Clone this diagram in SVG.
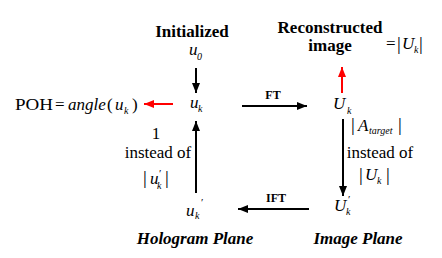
<svg xmlns="http://www.w3.org/2000/svg" width="442" height="258" viewBox="0 0 442 258">
<defs>
<style>
text{font-family:"Liberation Serif","Times New Roman",serif;fill:#000;}
.t{font-size:17px;}
.b{font-size:17px;font-weight:bold;}
.bi{font-size:17px;font-weight:bold;font-style:italic;}
.m{font-size:17px;font-style:italic;}
.s{font-size:10px;font-style:italic;}
.p{font-size:11px;}
.lb{font-size:12px;font-weight:bold;}
.bar{font-size:19px;}
.k{stroke:#000;stroke-width:2;fill:none;}
.r{stroke:#f00;stroke-width:2;fill:none;}
</style>
<marker id="ak" markerUnits="userSpaceOnUse" markerWidth="10" markerHeight="8" refX="10" refY="4" orient="auto"><path d="M0,0 L10,4 L0,8 z" fill="#000"/></marker>
<marker id="ar" markerUnits="userSpaceOnUse" markerWidth="10" markerHeight="8" refX="10" refY="4" orient="auto"><path d="M0,0 L10,4 L0,8 z" fill="#f00"/></marker>
</defs>
<rect width="442" height="258" fill="#fff"/>
<g id="connectors">
<line class="k" x1="196" y1="68" x2="196" y2="93" marker-end="url(#ak)"/>
<line class="r" x1="173" y1="104" x2="144" y2="104" marker-end="url(#ar)"/>
<line class="k" x1="242" y1="106" x2="307" y2="106" marker-end="url(#ak)"/>
<line class="r" x1="342" y1="93" x2="342" y2="67" marker-end="url(#ar)"/>
<line class="k" x1="343" y1="119" x2="343" y2="196" marker-end="url(#ak)"/>
<line class="k" x1="309" y1="209" x2="238" y2="209" marker-end="url(#ak)"/>
<line class="k" x1="196" y1="193" x2="196" y2="121" marker-end="url(#ak)"/>
<text class="lb" x="273" y="99" text-anchor="middle">FT</text>
<text class="lb" x="276" y="202" text-anchor="middle">IFT</text>
<text class="t" x="156" y="139" text-anchor="middle">1</text>
<text class="t" x="158" y="158" text-anchor="middle">instead of</text>
<g fill="#333">
<text class="bar" x="143" y="184">|</text>
<text class="m" x="150" y="184">u</text>
<text class="p" x="159" y="177">′</text>
<text class="s" x="157" y="189">k</text>
<text class="bar" x="165" y="184">|</text>
</g>
<text class="bar" x="351" y="131">|</text>
<text class="m" x="358" y="131">A</text>
<text class="s" x="369" y="134">target</text>
<text class="bar" x="398" y="131">|</text>
<text class="t" x="380" y="158" text-anchor="middle">instead of</text>
<text class="bar" x="359" y="181">|</text>
<text class="m" x="365" y="180">U</text>
<text class="s" x="377" y="184">k</text>
<text class="bar" x="386" y="181">|</text>
</g>
<g id="node-init">
<text class="b" x="192" y="37" text-anchor="middle">Initialized</text>
<text class="m" x="189" y="55">u</text>
<text class="s" x="197" y="60" font-style="normal">0</text>
</g>
<g id="node-uk">
<text class="m" x="190" y="108">u</text>
<text class="s" x="198" y="112">k</text>
</g>
<g id="node-poh">
<text class="t" x="15" y="110" textLength="38" lengthAdjust="spacingAndGlyphs">POH</text>
<text class="t" x="55" y="110">=</text>
<text class="m" x="68" y="110">angle</text>
<text class="t" x="107" y="110" font-size="19">(</text>
<text class="m" x="115" y="110">u</text>
<text class="s" x="124" y="114">k</text>
<text class="t" x="132" y="110" font-size="19">)</text>
</g>
<g id="node-Uk">
<text class="m" x="333" y="109">U</text>
<text class="s" x="347" y="114">k</text>
</g>
<g id="node-recon">
<text class="b" x="330" y="33" text-anchor="middle">Reconstructed</text>
<text class="b" x="330" y="51" text-anchor="middle">image</text>
<text class="t" x="386" y="49">=</text>
<text class="bar" x="397" y="50" font-size="22">|</text>
<text class="m" x="402" y="49">U</text>
<text class="s" x="414" y="53">k</text>
<text class="bar" x="419" y="50" font-size="22">|</text>
</g>
<g id="node-Ukp">
<text class="m" x="334" y="211">U</text>
<text class="p" x="348" y="203">′</text>
<text class="s" x="346" y="215">k</text>
</g>
<g id="node-ukp">
<text class="m" x="186" y="216">u</text>
<text class="p" x="201" y="206">′</text>
<text class="s" x="195" y="219">k</text>
</g>
<g id="labels">
<text class="bi" x="195" y="244" text-anchor="middle">Hologram Plane</text>
<text class="bi" x="358" y="244" text-anchor="middle">Image Plane</text>
</g>
</svg>
